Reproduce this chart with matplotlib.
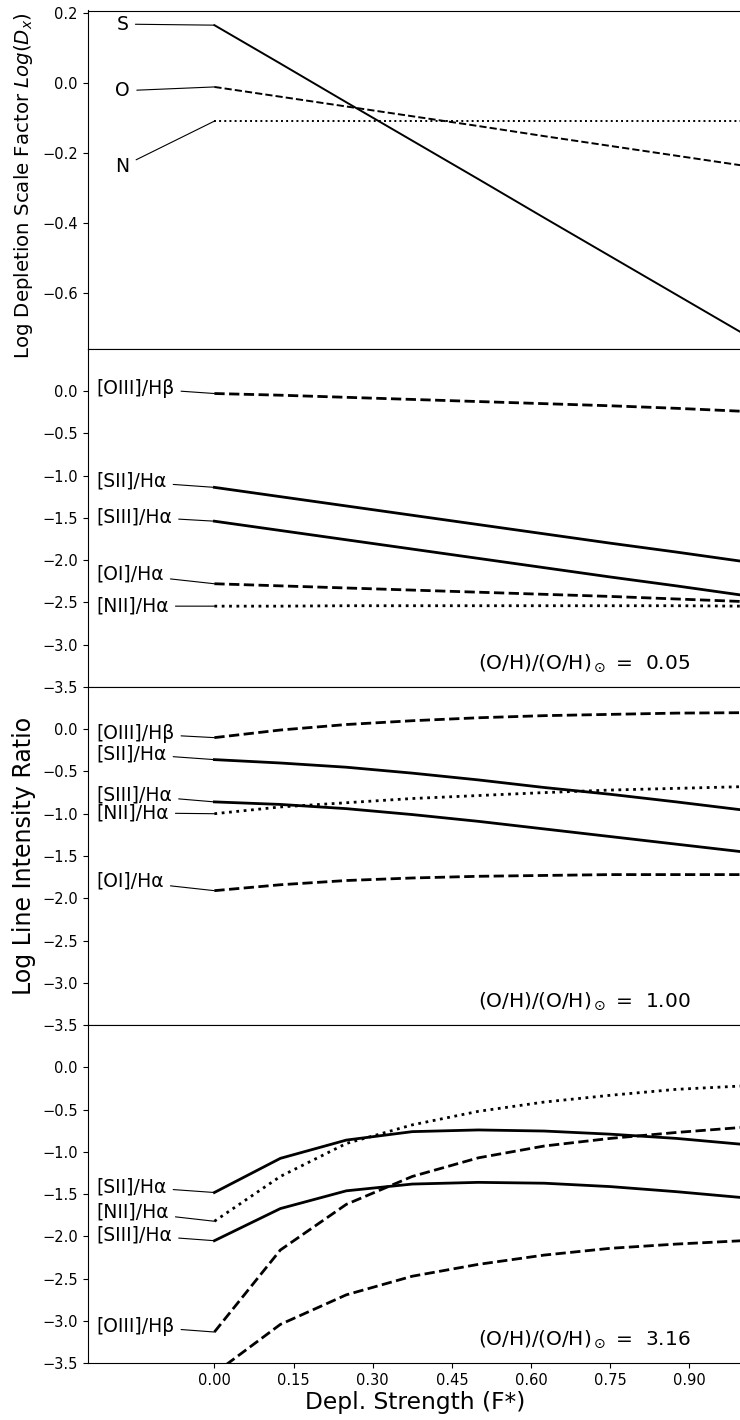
import matplotlib.pyplot as plt
import numpy as np

# depletion strength grid
fstar = [0.0, 0.125, 0.25, 0.375, 0.5, 0.625, 0.75, 0.875, 1.0]

# log depletion scale factors
logd_s = [0.166, 0.056, -0.055, -0.165, -0.275, -0.386, -0.496, -0.606, -0.716]
logd_o = [-0.011, -0.039, -0.067, -0.095, -0.123, -0.152, -0.180, -0.208, -0.236]
logd_n = [-0.109, -0.109, -0.109, -0.109, -0.109, -0.109, -0.109, -0.109, -0.109]

# log line ratios, one row per metallicity
zvals = [0.05, 1.00, 3.16]
oiii_hb = [
    [-0.03, -0.05, -0.075, -0.10, -0.125, -0.15, -0.175, -0.205, -0.24],
    [-0.10, -0.01, 0.055, 0.10, 0.135, 0.16, 0.175, 0.19, 0.195],
    [-3.13, -2.16, -1.62, -1.29, -1.07, -0.93, -0.84, -0.77, -0.71],
]
sii_ha = [
    [-1.14, -1.25, -1.36, -1.47, -1.58, -1.69, -1.80, -1.905, -2.015],
    [-0.36, -0.40, -0.45, -0.52, -0.60, -0.69, -0.77, -0.86, -0.955],
    [-1.48, -1.076, -0.86, -0.76, -0.74, -0.753, -0.79, -0.84, -0.91],
]
siii_ha = [
    [-1.54, -1.65, -1.76, -1.87, -1.98, -2.09, -2.20, -2.305, -2.415],
    [-0.86, -0.89, -0.94, -1.01, -1.09, -1.18, -1.27, -1.36, -1.45],
    [-2.05, -1.67, -1.46, -1.38, -1.36, -1.37, -1.41, -1.47, -1.54],
]
oi_ha = [
    [-2.28, -2.305, -2.33, -2.355, -2.38, -2.405, -2.43, -2.46, -2.49],
    [-1.91, -1.84, -1.79, -1.76, -1.74, -1.73, -1.72, -1.72, -1.72],
    [-3.62, -3.04, -2.69, -2.47, -2.33, -2.22, -2.14, -2.09, -2.05],
]
nii_ha = [
    [-2.545, -2.545, -2.54, -2.54, -2.54, -2.54, -2.54, -2.54, -2.545],
    [-1.0, -0.92, -0.87, -0.82, -0.785, -0.75, -0.72, -0.70, -0.68],
    [-1.82, -1.29, -0.90, -0.68, -0.52, -0.41, -0.33, -0.26, -0.22],
]

# where the line names sit (y of label), None = not labelled
lab_oiii = [0.035, -0.05, -3.06]
lab_sii = [-1.07, -0.29, -1.41]
lab_siii = [-1.485, -0.78, -1.98]
lab_oi = [-2.17, -1.80, None]
lab_nii = [-2.545, -0.99, -1.71]

elem_names = ['S', 'O', 'N']
elem_lab_y = [0.169, -0.022, -0.239]

W, H = 740, 1420
fig = plt.figure(figsize=(W / 100, H / 100), dpi=100)

left, right = 87.7 / W, 742.2 / W
top_px, bot_px = 10.5, 1363.3
ph = (bot_px - top_px) / 4 / H
axes = []
for i in range(4):
    y0 = 1 - (top_px / H) - (i + 1) * ph
    axes.append(fig.add_axes([left, y0, right - left, ph]))

xlim = (-0.24, 1.0)
lead = dict(arrowstyle='-', color='k', lw=0.8, shrinkA=3, shrinkB=0)

# top: depletion factors
ax = axes[0]
ax.plot(fstar, logd_s, 'k-', lw=1.4)
ax.plot(fstar, logd_o, 'k--', lw=1.4)
ax.plot(fstar, logd_n, 'k:', lw=1.4)
for name, yv, yl in zip(elem_names, [logd_s, logd_o, logd_n], elem_lab_y):
    ax.annotate(name, xy=(0, yv[0]), xytext=(-0.174, yl), ha='center', va='center',
                fontsize=13.5, arrowprops=lead)
ax.set_ylim(-0.761, 0.208)
ax.set_yticks([0.2, 0.0, -0.2, -0.4, -0.6])

# line ratio panels
for k in range(3):
    ax = axes[k + 1]
    series = [
        ('[OIII]/H\u03b2', oiii_hb[k], '--', lab_oiii[k]),
        ('[SII]/H\u03b1', sii_ha[k], '-', lab_sii[k]),
        ('[SIII]/H\u03b1', siii_ha[k], '-', lab_siii[k]),
        ('[OI]/H\u03b1', oi_ha[k], '--', lab_oi[k]),
        ('[NII]/H\u03b1', nii_ha[k], ':', lab_nii[k]),
    ]
    for name, yv, ls, yl in series:
        ax.plot(fstar, yv, color='k', ls=ls, lw=2.0)
        if yl is not None:
            ax.annotate(name, xy=(0, yv[0]), xytext=(-0.2245, yl), ha='left', va='center',
                        fontsize=13.5, arrowprops=lead)
    ax.text(0.70, -3.22, '(O/H)/(O/H)$_\\odot$ = %5.2f' % zvals[k],
            ha='center', va='center', fontsize=14.5)
    ax.set_ylim(-3.5, 0.5)
    ax.set_yticks(np.arange(0.0, -3.51, -0.5))

for i, ax in enumerate(axes):
    ax.set_xlim(*xlim)
    ax.tick_params(labelsize=10.5)
    if i < 3:
        ax.set_xticks([])
    else:
        ax.set_xticks([0.0, 0.15, 0.30, 0.45, 0.60, 0.75, 0.90])
        ax.set_xticklabels(['0.00', '0.15', '0.30', '0.45', '0.60', '0.75', '0.90'])

axes[3].set_xlabel('Depl. Strength (F*)', fontsize=16.8, labelpad=2)

def panel_mid(i):
    return 1 - (top_px / H) - (i + 0.5) * ph

# the depletion label runs up to the top edge of the figure
fig.text(24 / W, (H - 359) / H, 'Log Depletion Scale Factor $Log(D_x)$', rotation=90,
         ha='center', va='bottom', fontsize=14.2)
fig.text(24 / W, panel_mid(2), 'Log Line Intensity Ratio', rotation=90,
         ha='center', va='center', fontsize=17)

fig.savefig('out.png', dpi=100)
